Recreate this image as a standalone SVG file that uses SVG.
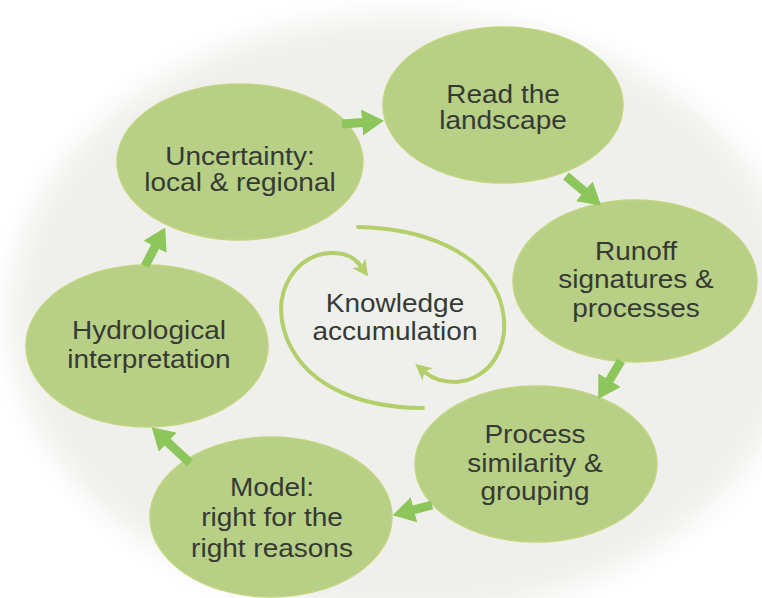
<svg xmlns="http://www.w3.org/2000/svg" width="762" height="598" viewBox="0 0 762 598">
  <defs>
    <filter id="soft" x="-10%" y="-10%" width="120%" height="120%">
      <feGaussianBlur stdDeviation="14"/>
    </filter>
    <marker id="head" markerUnits="userSpaceOnUse" markerWidth="22" markerHeight="26" refX="1" refY="13" orient="auto" viewBox="0 0 22 26">
      <path d="M0,0 L22,13 L0,26 z" fill="#8dc65a"/>
    </marker>
    <marker id="thin" markerUnits="userSpaceOnUse" markerWidth="16" markerHeight="16" refX="2" refY="8" orient="auto" viewBox="0 0 16 16">
      <path d="M0,0 L16,8 L0,16 L4,8 z" fill="#b3cf6a"/>
    </marker>
  </defs>
  <style>
    .node { fill: #b8cf86; stroke: #c2d47e; stroke-width: 1.5; }
    .label { font-family: "Liberation Sans", Arial, sans-serif; font-size: 25px; fill: #353a35; text-anchor: middle; }
    .arrow { stroke: #8dc65a; stroke-width: 9; fill: none; marker-end: url(#head); }
    .spiral { stroke: #b3cf6a; stroke-width: 4; fill: none; stroke-linecap: round; marker-end: url(#thin); }
  </style>
  <rect width="762" height="598" fill="#ffffff"/>
  <ellipse cx="405" cy="315" rx="395" ry="300" fill="#efefec" filter="url(#soft)"/>

  <g id="node-uncertainty">
    <ellipse class="node" cx="240" cy="162" rx="123" ry="78"/>
    <text class="label" transform="translate(240 0) scale(1.12 1)" x="0" y="165">Uncertainty:</text>
    <text class="label" transform="translate(240 0) scale(1.12 1)" x="0" y="191">local &amp; regional</text>
  </g>
  <g id="node-read">
    <ellipse class="node" cx="503" cy="105" rx="120" ry="78"/>
    <text class="label" transform="translate(503 0) scale(1.12 1)" x="0" y="103">Read the</text>
    <text class="label" transform="translate(503 0) scale(1.12 1)" x="0" y="129">landscape</text>
  </g>
  <g id="node-runoff">
    <ellipse class="node" cx="635" cy="281" rx="122" ry="81"/>
    <text class="label" transform="translate(636 0) scale(1.12 1)" x="0" y="260">Runoff</text>
    <text class="label" transform="translate(636 0) scale(1.12 1)" x="0" y="288">signatures &amp;</text>
    <text class="label" transform="translate(636 0) scale(1.12 1)" x="0" y="317">processes</text>
  </g>
  <g id="node-process">
    <ellipse class="node" cx="536" cy="464" rx="121" ry="78"/>
    <text class="label" transform="translate(535 0) scale(1.12 1)" x="0" y="443">Process</text>
    <text class="label" transform="translate(535 0) scale(1.12 1)" x="0" y="472">similarity &amp;</text>
    <text class="label" transform="translate(535 0) scale(1.12 1)" x="0" y="500">grouping</text>
  </g>
  <g id="node-model">
    <ellipse class="node" cx="271" cy="517" rx="121" ry="80"/>
    <text class="label" transform="translate(272 0) scale(1.12 1)" x="0" y="496">Model:</text>
    <text class="label" transform="translate(272 0) scale(1.12 1)" x="0" y="526">right for the</text>
    <text class="label" transform="translate(272 0) scale(1.12 1)" x="0" y="557">right reasons</text>
  </g>
  <g id="node-hydro">
    <ellipse class="node" cx="147" cy="346" rx="121" ry="81"/>
    <text class="label" transform="translate(149 0) scale(1.12 1)" x="0" y="339">Hydrological</text>
    <text class="label" transform="translate(149 0) scale(1.12 1)" x="0" y="368">interpretation</text>
  </g>
  <g id="node-knowledge">
    <text class="label" transform="translate(395 0) scale(1.12 1)" x="0" y="312">Knowledge</text>
    <text class="label" transform="translate(395 0) scale(1.12 1)" x="0" y="340">accumulation</text>
  </g>

  <g id="connectors">
    <line class="arrow" x1="342" y1="124" x2="363" y2="122.4"/>
    <line class="arrow" x1="566" y1="176" x2="585" y2="192"/>
    <line class="arrow" x1="621" y1="361" x2="609" y2="381"/>
    <line class="arrow" x1="432" y1="505" x2="413" y2="510"/>
    <line class="arrow" x1="190" y1="463" x2="167" y2="441.5"/>
    <line class="arrow" x1="145" y1="266" x2="155.5" y2="246"/>
    <path class="spiral" d="M358,227 C420,228 482,250 500,300 C514,345 490,380 456,382 C442,382 432,378 426,373"/>
    <path class="spiral" d="M423,408 C360,408 300,385 284,330 C273,290 296,255 330,253 C345,252 355,258 360,265"/>
  </g>
</svg>
